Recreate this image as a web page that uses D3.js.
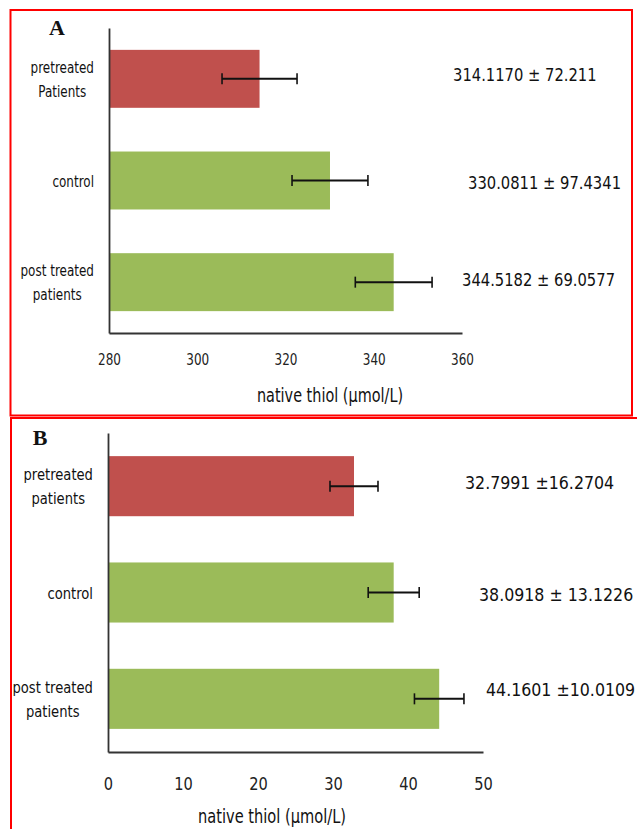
<!DOCTYPE html>
<html>
<head>
<meta charset="utf-8">
<script src="https://cdn.jsdelivr.net/npm/d3@7"></script>
<style>
  body { margin: 0; background: #fff; }
  svg { display: block; font-family: "DejaVu Sans", sans-serif; }
</style>
</head>
<body>
<script>
// chart data
var groupsA = ["pretreated|Patients", "control", "post treated|patients"];
var groupsB = ["pretreated|patients", "control", "post treated|patients"];
var meanA = [314.117, 330.0811, 344.5182];
var errA = [8.5, 8.6, 8.7];
var meanB = [32.7991, 38.0918, 44.1601];
var errB = [3.2, 3.4, 3.3];
var textA = ["314.1170 \u00b1 72.211", "330.0811 \u00b1 97.4341", "344.5182 \u00b1 69.0577"];
var textB = ["32.7991 \u00b116.2704", "38.0918 \u00b1 13.1226", "44.1601 \u00b110.0109"];
var ticksA = [280, 300, 320, 340, 360];
var ticksB = [0, 10, 20, 30, 40, 50];
var colors = ["#c0504d", "#9bbb59", "#9bbb59"];
var axisTitle = "native thiol (\u00b5mol/L)";

var svg = d3.select("body").append("svg")
  .attr("width", 637)
  .attr("height", 829);

// red frames
svg.append("rect")
  .attr("x", 10.5).attr("y", 10).attr("width", 621.5).attr("height", 405.5)
  .attr("fill", "none").attr("stroke", "#ff0000").attr("stroke-width", 2);
svg.append("path")
  .attr("d", "M637,418H11V829")
  .attr("fill", "none").attr("stroke", "#ff0000").attr("stroke-width", 2);

// text squeezed sideways, like the source image
function squeezed(g, x, y, sx, size, s, anchor) {
  return g.append("text")
    .attr("transform", "translate(" + x + "," + y + ") scale(" + sx + ",1)")
    .attr("text-anchor", anchor || "start")
    .attr("font-size", size)
    .attr("fill", "#111")
    .text(s);
}

function panel(opt) {
  var g = svg.append("g");

  var x = d3.scaleLinear().domain(opt.xDomain).range(opt.xRange);
  var y = d3.scaleBand().domain(opt.groups).range(opt.yRange)
    .paddingInner(opt.pad).paddingOuter(opt.pad / 2);

  // bars
  g.selectAll(".bar")
    .data(opt.groups).enter()
    .append("rect")
    .attr("x", x(opt.xDomain[0]))
    .attr("y", d => y(d))
    .attr("width", (d, i) => x(opt.means[i]) - x(opt.xDomain[0]))
    .attr("height", y.bandwidth())
    .attr("fill", (d, i) => colors[i]);

  // error bars
  opt.groups.forEach(function(d, i) {
    var cy = y(d) + y.bandwidth() / 2;
    var lo = x(opt.means[i] - opt.errs[i]);
    var hi = x(opt.means[i] + opt.errs[i]);
    g.append("line").attr("x1", lo).attr("x2", hi).attr("y1", cy).attr("y2", cy)
      .attr("stroke", "#111").attr("stroke-width", 2);
    [lo, hi].forEach(function(px) {
      g.append("line").attr("x1", px).attr("x2", px).attr("y1", cy - 5.5).attr("y2", cy + 5.5)
        .attr("stroke", "#111").attr("stroke-width", 1.6);
    });
  });

  // x axis
  var xAxis = d3.axisBottom(x).tickValues(opt.ticks).tickSize(0)
    .tickPadding(opt.tickPad).tickFormat(d3.format("d"));
  var xg = g.append("g")
    .attr("transform", "translate(0," + opt.yRange[1] + ")")
    .call(xAxis);
  xg.select(".domain").attr("stroke", "#333").attr("stroke-width", 1.8);
  xg.selectAll("text")
    .attr("font-family", "'DejaVu Sans', sans-serif")
    .attr("font-size", opt.tickSize).attr("fill", "#222")
    .attr("transform", "scale(" + opt.tickSx + ",1)");

  // y axis line
  var yAxis = d3.axisLeft(y).tickSize(0).tickFormat("");
  var yg = g.append("g")
    .attr("transform", "translate(" + opt.xRange[0] + ",0)")
    .call(yAxis);
  yg.select(".domain").attr("stroke", "#333").attr("stroke-width", 1.8);

  // category labels
  opt.groups.forEach(function(d, i) {
    var lines = d.split("|");
    var cy = y(d) + y.bandwidth() / 2;
    var lg = g.append("g");
    var t = lg.append("text")
      .attr("font-size", opt.labelSize)
      .attr("fill", "#111")
      .attr("text-anchor", "middle");
    lines.forEach(function(s, j) {
      t.append("tspan")
        .attr("x", 0)
        .attr("dy", j === 0 ? 0 : opt.labelLh)
        .text(s);
    });
    var w = 0;
    t.selectAll("tspan").each(function() { w = Math.max(w, this.getComputedTextLength()); });
    var cx = opt.labelRight - w * opt.labelSx / 2;
    var y0 = cy + 6 - (lines.length - 1) * opt.labelLh / 2;
    lg.attr("transform", "translate(" + cx + "," + y0 + ") scale(" + opt.labelSx + ",1)");
  });

  // value annotations
  opt.texts.forEach(function(s, i) {
    squeezed(g, opt.textX[i], y(opt.groups[i]) + y.bandwidth() / 2 + opt.textDy[i],
      opt.textSx, opt.textSize, s);
  });

  // axis title
  squeezed(g, opt.titleX, opt.titleY, opt.titleSx, opt.titleSize, axisTitle, "middle");

  // panel letter
  g.append("text")
    .attr("x", opt.letterX).attr("y", opt.letterY)
    .attr("text-anchor", "middle")
    .attr("font-family", "'Liberation Serif', 'DejaVu Serif', serif")
    .attr("font-weight", "bold")
    .attr("font-size", 22)
    .attr("fill", "#111")
    .text(opt.letter);
}

panel({
  groups: groupsA, means: meanA, errs: errA, texts: textA, ticks: ticksA,
  xDomain: [280, 360], xRange: [109, 462], yRange: [28, 333], pad: 0.43,
  tickPad: 21, tickSize: 16, tickSx: 0.75,
  labelSize: 15, labelSx: 0.8, labelLh: 24.4, labelRight: 94,
  textX: [453, 468, 462], textDy: [2, 8.5, 4], textSize: 18, textSx: 0.82,
  titleX: 330, titleY: 402, titleSize: 19, titleSx: 0.76,
  letter: "A", letterX: 57, letterY: 35
});

panel({
  groups: groupsB, means: meanB, errs: errB, texts: textB, ticks: ticksB,
  xDomain: [0, 50], xRange: [108, 483], yRange: [433, 752], pad: 0.435,
  tickPad: 26, tickSize: 17, tickSx: 0.86,
  labelSize: 15.3, labelSx: 0.86, labelLh: 23.5, labelRight: 93,
  textX: [465, 479, 486], textDy: [3, 8.5, -3], textSize: 18, textSx: 0.88,
  titleX: 272, titleY: 823, titleSize: 19, titleSx: 0.77,
  letter: "B", letterX: 40, letterY: 445
});
</script>
</body>
</html>
